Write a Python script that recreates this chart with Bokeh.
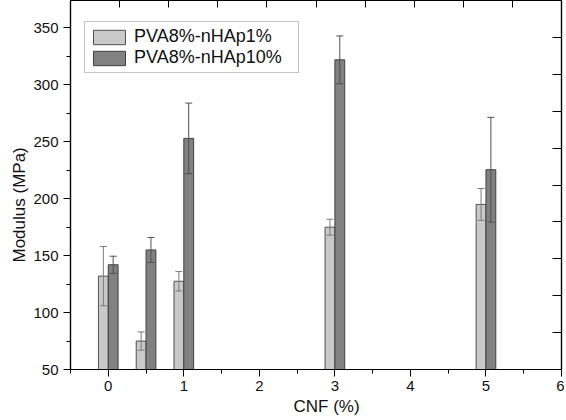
from bokeh.plotting import figure
from bokeh.models import (ColumnDataSource, Range1d, LinearAxis, FixedTicker,
                          Whisker, TeeHead, Legend, LegendItem, Title,
                          CustomJSTickFormatter)
from bokeh.transform import dodge
from bokeh.embed import file_html
from bokeh.resources import INLINE

# ---- data ----
cnf = [0, 0.5, 1, 3, 5]
nhap1 = [132, 75, 127.5, 175, 195]
nhap1_err = [26, 8, 8.5, 7, 14]
nhap10 = [142, 155, 253, 322, 225.5]
nhap10_err = [7.5, 11, 31, 21, 46]
series_names = ["PVA8%-nHAp1%", "PVA8%-nHAp10%"]
x_ticks = [0, 1, 2, 3, 4, 5, 6]
y_ticks = [50, 100, 150, 200, 250, 300, 350]
x_title = "CNF (%)"
y_title = "Modulus (MPa)"

src = ColumnDataSource(dict(
    x=cnf,
    a=nhap1, a_lo=[v - e for v, e in zip(nhap1, nhap1_err)], a_hi=[v + e for v, e in zip(nhap1, nhap1_err)],
    b=nhap10, b_lo=[v - e for v, e in zip(nhap10, nhap10_err)], b_hi=[v + e for v, e in zip(nhap10, nhap10_err)],
))

FONT = "Liberation Sans"
BW = 0.13
OFF = 0.065

p = figure(width=564, height=418, output_backend="svg", toolbar_location=None,
           x_range=Range1d(-0.5, 6), y_range=Range1d(50, 374.1),
           min_border_left=70, min_border_right=3, min_border_top=0, min_border_bottom=49)
p.background_fill_color = "white"
p.border_fill_color = "white"
p.outline_line_color = "black"
p.outline_line_width = 1.2
p.grid.visible = False

r1 = p.vbar(x=dodge("x", -OFF), top="a", bottom=0, width=BW, source=src,
            fill_color="#c9c9c9", line_color="#505050", line_width=1)
r2 = p.vbar(x=dodge("x", OFF), top="b", bottom=0, width=BW, source=src,
            fill_color="#818181", line_color="#404040", line_width=1)

for lo, hi, off, col in (("a_lo", "a_hi", -OFF, "#7a7a7a"), ("b_lo", "b_hi", OFF, "#505050")):
    w = Whisker(base=dodge("x", off), lower=lo, upper=hi, source=src, level="overlay",
                line_color=col, line_width=1,
                upper_head=TeeHead(size=7, line_color=col, line_width=1),
                lower_head=TeeHead(size=7, line_color=col, line_width=1))
    p.add_layout(w)

# axes
xa = p.xaxis[0]
xa.ticker = FixedTicker(ticks=x_ticks, minor_ticks=[-0.5 + 0.5 * i for i in range(14)])
ya = p.yaxis[0]
ya.ticker = FixedTicker(ticks=y_ticks, minor_ticks=[75, 125, 175, 225, 275, 325])
for ax in (xa, ya):
    ax.axis_line_color = "black"
    ax.axis_line_width = 1.2
    ax.major_tick_line_color = "black"
    ax.minor_tick_line_color = "black"
    ax.major_tick_out = 7
    ax.major_tick_in = 0
    ax.minor_tick_out = 4
    ax.minor_tick_in = 0
    ax.major_label_text_font = FONT
    ax.major_label_text_font_size = "15px"
    ax.major_label_text_color = "#111111"
xa.major_label_standoff = 4
ya.major_label_standoff = 5

# mirrored frame ticks (top and right)
p.extra_x_ranges = {"top": Range1d(0, 10)}
p.extra_y_ranges = {"right": Range1d(0, 10)}
blank = CustomJSTickFormatter(code="return ''")
ta = LinearAxis(x_range_name="top", ticker=FixedTicker(ticks=list(range(1, 10)), minor_ticks=[]),
                formatter=blank)
ra = LinearAxis(y_range_name="right", ticker=FixedTicker(ticks=list(range(1, 10)), minor_ticks=[]),
                formatter=blank)
for ax, tin in ((ta, 7), (ra, 9)):
    ax.major_tick_in = tin
    ax.major_tick_out = 0
    ax.minor_tick_in = 0
    ax.minor_tick_out = 0
    ax.major_label_standoff = 0
    ax.major_label_text_font_size = "1px"
    ax.axis_line_color = "black"
    ax.axis_line_width = 1.2
    ax.major_tick_line_color = "black"
p.add_layout(ta, "above")
p.add_layout(ra, "right")

# axis titles (side titles, offset like the reference)
p.add_layout(Title(text=x_title, align="left", offset=223, standoff=2,
                   text_font=FONT, text_font_size="17px", text_font_style="normal",
                   text_color="#111111"), "below")
p.add_layout(Title(text=y_title, align="left", offset=107, standoff=4,
                   text_font=FONT, text_font_size="17px", text_font_style="normal",
                   text_color="#111111"), "left")

legend = Legend(items=[LegendItem(label=series_names[0], renderers=[r1]),
                       LegendItem(label=series_names[1], renderers=[r2])],
                location=(14, 296))
legend.label_text_font = FONT
legend.label_text_font_size = "18px"
legend.label_text_color = "#111111"
legend.glyph_width = 40
legend.glyph_height = 18
legend.label_height = 18
legend.label_width = 160
legend.label_standoff = 5
legend.spacing = 0
legend.padding = 4
legend.margin = 0
legend.border_line_color = "#8a8a8a"
legend.border_line_width = 1.5
legend.background_fill_color = "white"
legend.background_fill_alpha = 1
p.add_layout(legend)

open("out.html", "w").write(file_html(p, INLINE))
